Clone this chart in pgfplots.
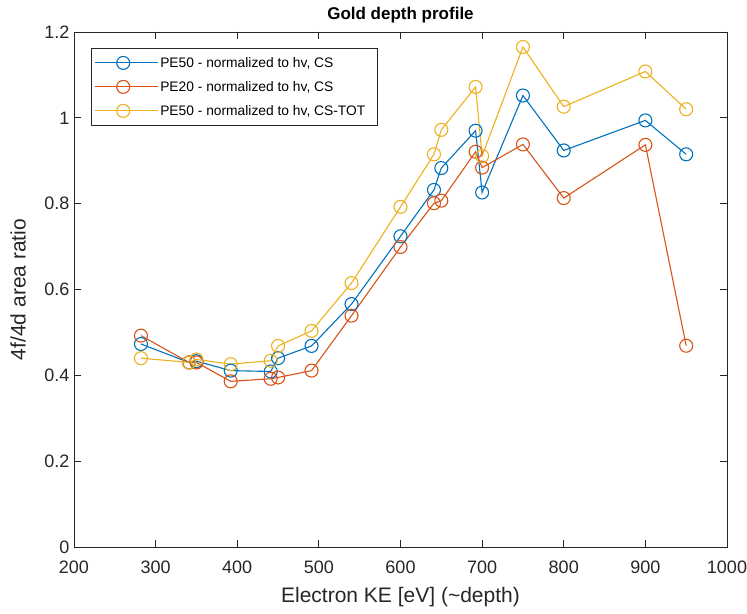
\documentclass[border=0pt]{standalone}
\usepackage{fontspec}
\setmainfont{Liberation Sans}
\usepackage{pgfplots}
\pgfplotsset{compat=1.18}
\definecolor{mblue}{rgb}{0,0.447,0.741}
\definecolor{mred}{rgb}{0.850,0.325,0.098}
\definecolor{myellow}{rgb}{0.929,0.694,0.125}
\definecolor{axgray}{rgb}{0.15,0.15,0.15}
\begin{document}
\begin{tikzpicture}
\begin{axis}[name=ax, scale only axis, width=653bp, height=515bp,
  xmin=200, xmax=1000, ymin=0, ymax=1.2,
  xtick={200,300,400,500,600,700,800,900,1000},
  ytick={0,0.2,0.4,0.6,0.8,1,1.2},
  axis line style={axgray, line width=0.8bp},
  tick style={axgray, line width=0.8bp},
  major tick length=7bp,
  /pgf/number format/assume math mode=true,
  /pgf/number format/1000 sep={},
  ticklabel style={font=\fontsize{18bp}{20bp}\selectfont, text=axgray},
  xticklabel style={yshift=-10bp},
  yticklabel style={xshift=-1bp},
  title={Gold depth profile},
  title style={font=\bfseries\fontsize{17bp}{19bp}\selectfont, at={(axis description cs:0.5,1)}, anchor=base, yshift=7bp},
  xlabel={Electron KE [eV] (\textasciitilde depth)},
  xlabel style={font=\fontsize{21bp}{24bp}\selectfont, text=axgray, at={(axis description cs:0.5,-0.0971)}, anchor=center},
  ylabel={4f/4d area ratio},
  ylabel style={font=\fontsize{21bp}{24bp}\selectfont, text=axgray, at={(axis description cs:-0.0857,0.5)}, anchor=center},
  legend style={at={(axis description cs:0.026,0.969)}, anchor=north west, draw=axgray, fill=white,
    font=\fontsize{13.8bp}{16bp}\selectfont, row sep=8.5bp, inner xsep=3bp, inner ysep=7bp},
  legend cell align=left,
  legend image code/.code={\draw[mark repeat=2,mark phase=2] plot coordinates {(0bp,0bp) (28.5bp,0bp) (57bp,0bp)}; \path (0bp,0bp) -- (63bp,0bp);},
]
\addplot[mblue, line width=1.1bp, mark=o, mark size=6.5bp, mark options={line width=1.1bp}] coordinates {
(282,0.473) (341,0.430) (350,0.433) (392,0.411) (441,0.409) (450,0.440) (491,0.4685) (540,0.566) (600,0.724) (641,0.832) (650,0.883) (692,0.970) (700,0.826) (750,1.052) (800,0.924) (900,0.994) (950,0.915)};
\addlegendentry{PE50 - normalized to hv, CS}
\addplot[mred, line width=1.1bp, mark=o, mark size=6.5bp, mark options={line width=1.1bp}] coordinates {
(282,0.4925) (341,0.430) (350,0.430) (392,0.386) (441,0.392) (450,0.395) (491,0.411) (540,0.539) (600,0.699) (641,0.801) (650,0.807) (692,0.921) (700,0.884) (750,0.938) (800,0.813) (900,0.937) (950,0.469)};
\addlegendentry{PE20 - normalized to hv, CS}
\addplot[myellow, line width=1.1bp, mark=o, mark size=6.5bp, mark options={line width=1.1bp}] coordinates {
(282,0.440) (341,0.430) (350,0.437) (392,0.426) (441,0.434) (450,0.4685) (491,0.5035) (540,0.615) (600,0.7925) (641,0.915) (650,0.972) (692,1.072) (700,0.911) (750,1.165) (800,1.026) (900,1.108) (950,1.020)};
\addlegendentry{PE50 - normalized to hv, CS-TOT\hspace*{7bp}}
\end{axis}
\pgfresetboundingbox
\path[use as bounding box] ([shift={(-74bp,-67bp)}]ax.south west) rectangle ([shift={(20bp,32bp)}]ax.north east);
\end{tikzpicture}
\end{document}
